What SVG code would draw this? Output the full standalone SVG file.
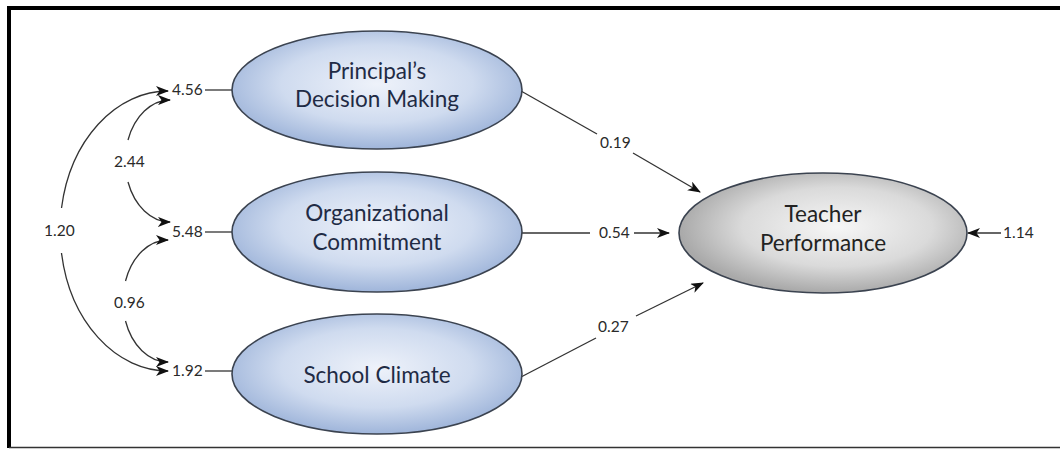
<svg xmlns="http://www.w3.org/2000/svg" width="1060" height="450" viewBox="0 0 1060 450">
<defs>
<radialGradient id="blue" cx="50%" cy="45%" r="55%">
<stop offset="0" stop-color="#eef2fa"/>
<stop offset="0.6" stop-color="#cfdbef"/>
<stop offset="1" stop-color="#9fb5da"/>
</radialGradient>
<radialGradient id="gray" cx="55%" cy="45%" r="55%">
<stop offset="0" stop-color="#f6f6f6"/>
<stop offset="0.6" stop-color="#dadada"/>
<stop offset="1" stop-color="#a9a9a9"/>
</radialGradient>
<marker id="arr" viewBox="0 0 13 10" refX="12" refY="5" markerWidth="13" markerHeight="10" markerUnits="userSpaceOnUse" orient="auto">
<path d="M0,0 L13,5 L0,10 L3.5,5 Z" fill="#111"/>
</marker>
</defs>
<style>
.node ellipse{stroke:#3b4350;stroke-width:1.6}
.nt{font-family:"Lato","Open Sans",sans-serif;font-size:22.5px;text-anchor:middle}
.blue .nt{fill:#1f2b45}
.gr .nt{fill:#222}
.lbl{font-family:"Lato","Open Sans",sans-serif;font-size:15.5px;fill:#2a2a2a}
.c path,.c line{fill:none;stroke:#333;stroke-width:1.3}
.ar{marker-end:url(#arr)}
</style>
<rect width="1060" height="450" fill="#fff"/>
<g id="border">
<line x1="9" y1="8" x2="1060" y2="8" stroke="#000" stroke-width="4"/>
<line x1="9" y1="6" x2="9" y2="448" stroke="#000" stroke-width="4"/>
<line x1="9" y1="447.5" x2="1060" y2="447.5" stroke="#333" stroke-width="1.5"/>
</g>
<g id="connectors" class="c">
<path class="ar" d="M61.5 208 A108 140 0 0 1 168 91"/>
<path class="ar" d="M61.5 253 A108 140 0 0 0 168 371"/>
<path class="ar" d="M128 140 A45 61 0 0 1 170 100"/>
<path class="ar" d="M128 182 A45 61 0 0 0 170 222"/>
<path class="ar" d="M125.5 281 A45 61 0 0 1 168 240"/>
<path class="ar" d="M125.5 321 A45 61 0 0 0 168 362"/>
<line x1="205" y1="90" x2="232" y2="90"/>
<line x1="205" y1="232" x2="232" y2="232"/>
<line x1="205" y1="371" x2="232" y2="371"/>
<line x1="521" y1="91" x2="597" y2="134"/>
<line class="ar" x1="633" y1="153" x2="700" y2="192"/>
<line x1="521" y1="233" x2="590" y2="233"/>
<line class="ar" x1="634" y1="233" x2="669" y2="233"/>
<line x1="521" y1="377" x2="596" y2="338"/>
<line class="ar" x1="636" y1="316" x2="703" y2="283"/>
<line class="ar" x1="1001" y1="233" x2="968" y2="233"/>
<text class="lbl" x="44" y="236">1.20</text>
<text class="lbl" x="114" y="167">2.44</text>
<text class="lbl" x="114" y="308">0.96</text>
<text class="lbl" x="172" y="95">4.56</text>
<text class="lbl" x="172" y="237">5.48</text>
<text class="lbl" x="172" y="376">1.92</text>
<text class="lbl" x="600" y="148">0.19</text>
<text class="lbl" x="599" y="238">0.54</text>
<text class="lbl" x="598" y="332">0.27</text>
<text class="lbl" x="1003" y="238">1.14</text>
</g>
<g id="principal" class="node blue">
<ellipse cx="377" cy="90" rx="145" ry="59" fill="url(#blue)"/>
<text class="nt" x="377" y="79">Principal’s</text>
<text class="nt" x="377" y="107">Decision Making</text>
</g>
<g id="organizational" class="node blue">
<ellipse cx="377" cy="232" rx="145" ry="60" fill="url(#blue)"/>
<text class="nt" x="377" y="221">Organizational</text>
<text class="nt" x="377" y="250">Commitment</text>
</g>
<g id="climate" class="node blue">
<ellipse cx="377" cy="374" rx="145" ry="60" fill="url(#blue)"/>
<text class="nt" x="377" y="383">School Climate</text>
</g>
<g id="teacher" class="node gr">
<ellipse cx="823" cy="233" rx="144" ry="60" fill="url(#gray)"/>
<text class="nt" x="823" y="222">Teacher</text>
<text class="nt" x="823" y="251">Performance</text>
</g>
</svg>
